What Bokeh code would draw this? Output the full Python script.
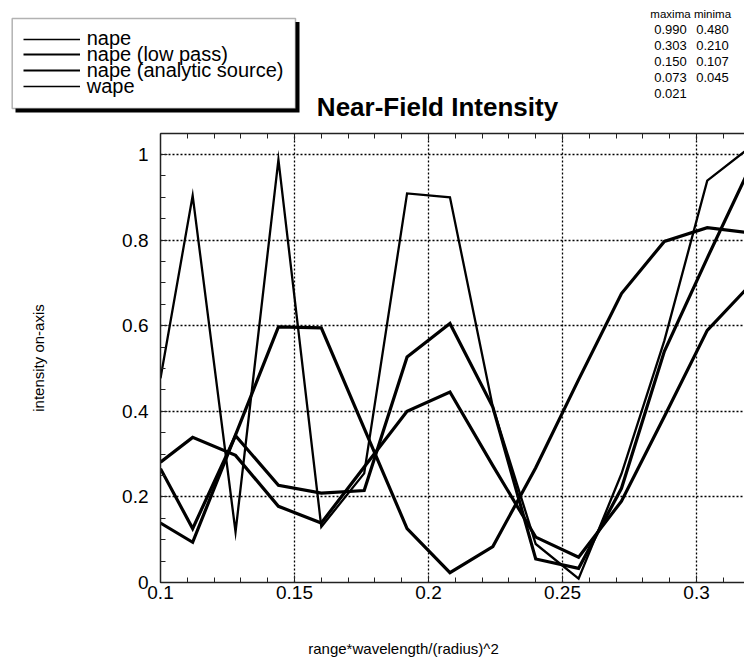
import numpy as np
from bokeh.plotting import figure
from bokeh.layouts import column
from bokeh.models import (Range1d, LinearAxis, FixedTicker, Label, Legend,
                          LegendItem, BoxAnnotation)
from bokeh.embed import file_html
from bokeh.resources import INLINE

# ---------------- data ----------------
rng = [0.1, 0.112, 0.128, 0.144, 0.16, 0.176, 0.192, 0.208, 0.224, 0.24,
       0.256, 0.272, 0.288, 0.304, 0.32]
nape = [0.477, 0.904, 0.118, 0.988, 0.13, 0.255, 0.909, 0.90, 0.41, 0.09,
        0.009, 0.254, 0.565, 0.939, 1.017]
nape_low_pass = [0.266, 0.126, 0.343, 0.227, 0.209, 0.215, 0.527, 0.605, 0.41,
                 0.055, 0.033, 0.22, 0.54, 0.758, 0.97]
nape_analytic = [0.281, 0.339, 0.297, 0.178, 0.139, 0.27, 0.40, 0.445, 0.273,
                 0.106, 0.059, 0.19, 0.388, 0.589, 0.695]
wape = [0.139, 0.094, 0.345, 0.597, 0.595, 0.36, 0.126, 0.023, 0.084, 0.268,
        0.474, 0.675, 0.797, 0.829, 0.817]

series_names = ["nape", "nape (low pass)", "nape (analytic source)", "wape"]
series_values = [nape, nape_low_pass, nape_analytic, wape]

x_ticks = [0.1, 0.15, 0.2, 0.25, 0.3]
x_tick_labels = ["0.1", "0.15", "0.2", "0.25", "0.3"]
y_ticks = [0, 0.2, 0.4, 0.6, 0.8, 1]
y_tick_labels = ["0", "0.2", "0.4", "0.6", "0.8", "1"]

maxima = ["0.990", "0.303", "0.150", "0.073", "0.021"]
minima = ["0.480", "0.210", "0.107", "0.045"]

# ---------------- layout constants (px) ----------------
W = 744
HH = 127          # header height (legend, title, table)
HM = 493          # main plot height
HF = 39           # footer height (x-axis title)
FONT = "Liberation Sans"
LINE_W = [2.3, 3.2, 3.2, 3.2]
LEGEND_W = [1.6, 2.2, 2.2, 1.4]
LEGEND_ROW_Y = [38.5, 54, 70, 86]   # centre of each legend row (header px)


def plain(h, w=W):
    f = figure(width=w, height=h, output_backend="svg", toolbar_location=None,
               x_range=Range1d(0, w), y_range=Range1d(h, 0),
               x_axis_type=None, y_axis_type=None, min_border=0,
               frame_align=False)
    f.outline_line_color = None
    f.grid.visible = False
    f.background_fill_color = "white"
    f.border_fill_color = "white"
    return f


# ---------------- main plot ----------------
p = figure(width=W, height=HM, output_backend="svg", toolbar_location=None,
           x_range=Range1d(0.1, 0.3179), y_range=Range1d(0, 1.049),
           min_border_left=160, min_border_right=0, min_border_top=6,
           min_border_bottom=38, frame_align=False)
p.outline_line_color = None
p.background_fill_color = "white"
p.border_fill_color = "white"

x_minor = [round(v, 3) for v in np.arange(0.1, 0.33, 0.01)]
y_minor = [round(v, 3) for v in np.arange(0, 1.06, 0.05)]
xt = FixedTicker(ticks=x_ticks, minor_ticks=x_minor)
yt = FixedTicker(ticks=y_ticks, minor_ticks=y_minor)

for ax in (p.xaxis[0], p.yaxis[0]):
    ax.major_tick_in = 7
    ax.major_tick_out = 0
    ax.minor_tick_in = 5
    ax.minor_tick_out = 0
    ax.axis_line_width = 1.5
    ax.axis_line_color = "#222222"
    ax.major_tick_line_color = "#222222"
    ax.minor_tick_line_color = "#222222"
    ax.major_label_text_font = FONT
    ax.major_label_text_font_size = "19px"
    ax.major_label_text_color = "black"

p.xaxis[0].ticker = xt
p.yaxis[0].ticker = yt
p.xaxis[0].major_label_overrides = dict(zip(x_ticks, x_tick_labels))
p.yaxis[0].major_label_overrides = dict(zip(y_ticks, y_tick_labels))
p.xaxis[0].major_label_standoff = 3
p.yaxis[0].major_label_standoff = 12

p.yaxis[0].axis_label = "intensity on-axis"
p.yaxis[0].axis_label_text_font = FONT
p.yaxis[0].axis_label_text_font_size = "15px"
p.yaxis[0].axis_label_text_font_style = "normal"
p.yaxis[0].axis_label_text_color = "black"
p.yaxis[0].axis_label_standoff = 72

top_ax = LinearAxis(ticker=xt, major_label_text_font_size="0px",
                    major_label_standoff=0,
                    major_tick_in=7, major_tick_out=0, minor_tick_in=5,
                    minor_tick_out=0, axis_line_width=1.5,
                    axis_line_color="#222222",
                    major_tick_line_color="#222222",
                    minor_tick_line_color="#222222")
p.add_layout(top_ax, "above")

p.xgrid.ticker = xt
p.ygrid.ticker = yt
for g in (p.xgrid[0], p.ygrid[0]):
    g.grid_line_color = "black"
    g.grid_line_dash = "2 2"
    g.grid_line_width = 1.3

for vals, lw in zip(series_values, LINE_W):
    p.line(rng, vals, line_color="black", line_width=lw, line_join="miter")

# ---------------- header: legend, title, extrema table ----------------
hdr = plain(HH)

# legend frame with drop shadow
hdr.add_layout(BoxAnnotation(left=15, right=299, top=21.5, bottom=112,
                             fill_color="black", fill_alpha=1, line_color=None))
hdr.add_layout(BoxAnnotation(left=11.7, right=295, top=18, bottom=108,
                             fill_color="white", fill_alpha=1,
                             line_color="black", line_width=1.5))

# one single-entry legend per row so the rows can sit as tightly as printed
for name, vals, lw, cy in zip(series_names, series_values, LEGEND_W,
                              LEGEND_ROW_Y):
    r = hdr.line(rng, vals, line_color="black", line_width=lw, visible=False)
    lg = Legend(items=[LegendItem(label=name, renderers=[r])],
                location=(22.7, HH - cy - 13))
    lg.label_text_font = FONT
    lg.label_text_font_size = "20px"
    lg.label_text_color = "black"
    lg.glyph_width = 57
    lg.glyph_height = 26
    lg.label_height = 26
    lg.spacing = 0
    lg.padding = 0
    lg.margin = 0
    lg.label_standoff = 7
    lg.border_line_color = None
    lg.background_fill_alpha = 0
    hdr.add_layout(lg)

hdr.add_layout(Label(x=437, y=106, text="Near-Field Intensity",
                     text_font=FONT, text_font_size="26px",
                     text_font_style="bold", text_align="center",
                     text_baseline="middle", text_color="black"))

hdr.add_layout(Label(x=670, y=13, text="maxima", text_font=FONT,
                     text_font_size="11.5px", text_align="center",
                     text_baseline="middle", text_color="black"))
hdr.add_layout(Label(x=712, y=13, text="minima", text_font=FONT,
                     text_font_size="11.5px", text_align="center",
                     text_baseline="middle", text_color="black"))
for i, t in enumerate(maxima):
    hdr.add_layout(Label(x=670, y=28.5 + 16 * i, text=t, text_font=FONT,
                         text_font_size="13px", text_align="center",
                         text_baseline="middle", text_color="black"))
for i, t in enumerate(minima):
    hdr.add_layout(Label(x=712, y=28.5 + 16 * i, text=t, text_font=FONT,
                         text_font_size="13px", text_align="center",
                         text_baseline="middle", text_color="black"))

# ---------------- footer: x-axis title ----------------
ftr = plain(HF)
ftr.add_layout(Label(x=403, y=28, text="range*wavelength/(radius)^2",
                     text_font=FONT, text_font_size="15px",
                     text_align="center", text_baseline="middle",
                     text_color="black"))

layout = column(hdr, p, ftr, spacing=0)
open("out.html", "w").write(file_html(layout, INLINE))
